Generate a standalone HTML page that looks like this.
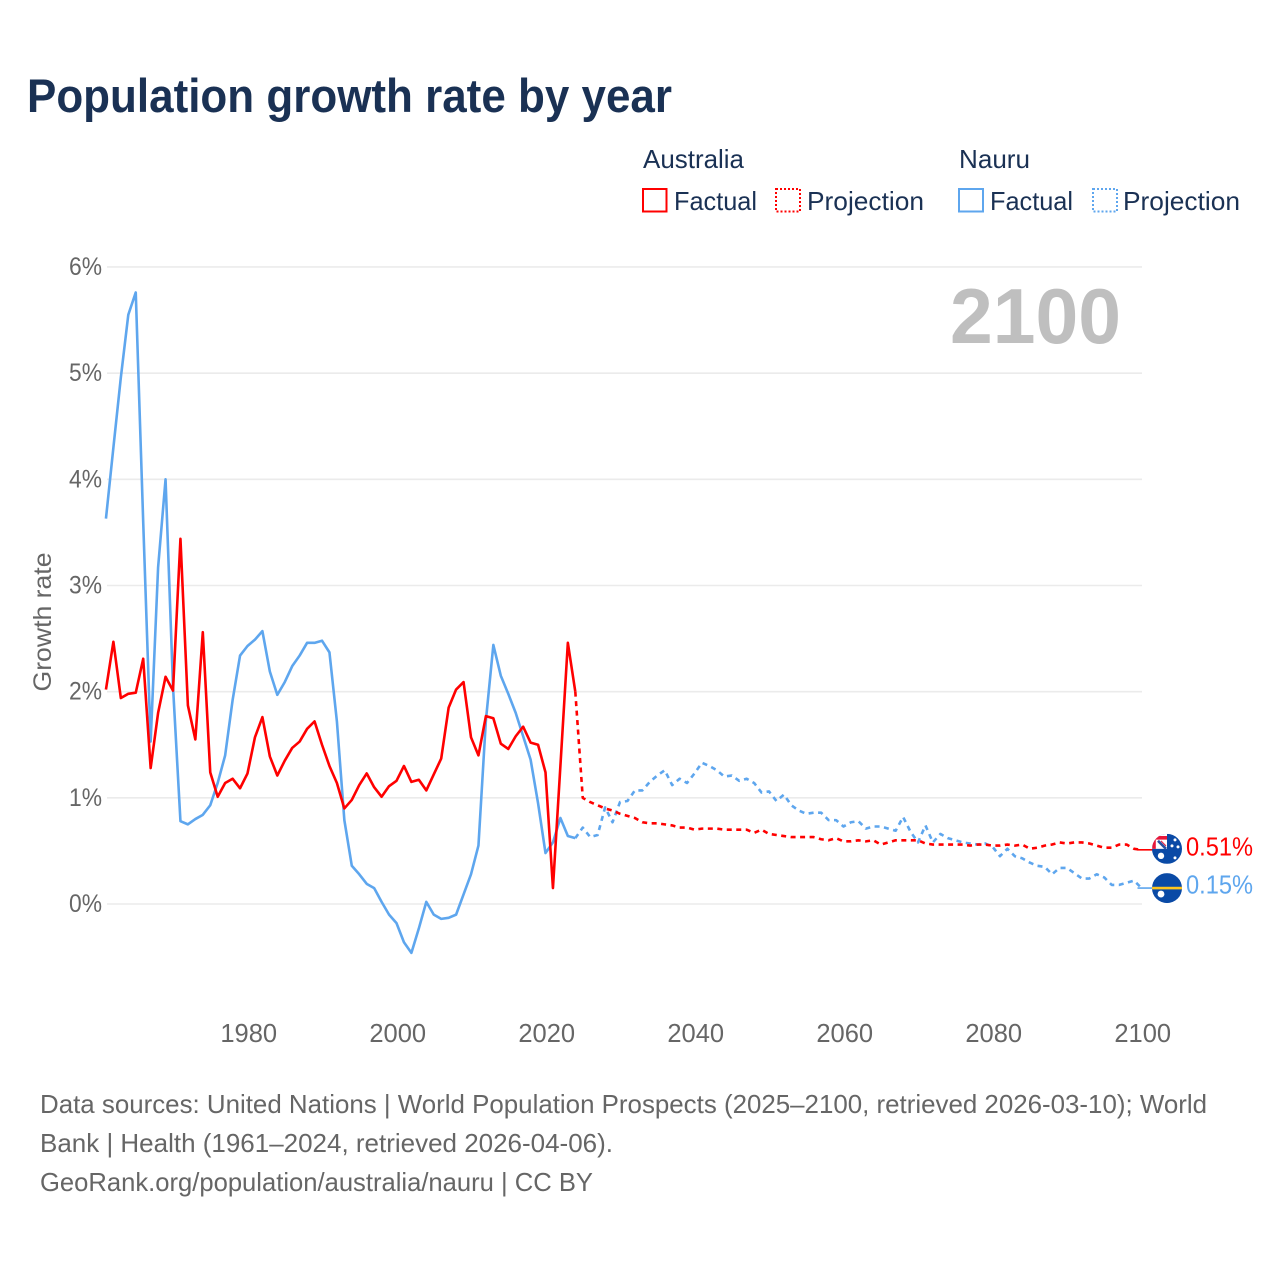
<!DOCTYPE html>
<html lang="en">
<head>
<meta charset="utf-8">
<title>Population growth rate by year</title>
<style>
html,body{margin:0;padding:0;background:#fff;}
svg{display:block;font-family:"Liberation Sans",sans-serif;}
</style>
</head>
<body>
<svg id="chart" xmlns="http://www.w3.org/2000/svg" width="1280" height="1280" viewBox="0 0 1280 1280">
  <rect width="1280" height="1280" fill="#ffffff"/>
  <text x="27" y="112" font-size="47" font-weight="700" fill="#1a3154" textLength="645" lengthAdjust="spacingAndGlyphs">Population growth rate by year</text>

  <g fill="#1a3154" font-size="26">
    <text x="643" y="168" textLength="101" lengthAdjust="spacingAndGlyphs">Australia</text>
    <rect x="643" y="189" width="23.500" height="22.500" fill="none" stroke="#ff0000" stroke-width="2"/>
    <text x="674" y="210" textLength="83" lengthAdjust="spacingAndGlyphs">Factual</text>
    <rect x="776" y="189" width="24" height="22.500" fill="none" stroke="#ff0000" stroke-width="2" stroke-dasharray="2 2"/>
    <text x="807" y="210" textLength="117" lengthAdjust="spacingAndGlyphs">Projection</text>
    <text x="959" y="168" textLength="71" lengthAdjust="spacingAndGlyphs">Nauru</text>
    <rect x="959" y="189" width="24" height="22.500" fill="none" stroke="#5ea6ee" stroke-width="2"/>
    <text x="990" y="210" textLength="83" lengthAdjust="spacingAndGlyphs">Factual</text>
    <rect x="1093" y="189" width="24" height="22.500" fill="none" stroke="#5ea6ee" stroke-width="2" stroke-dasharray="2 2"/>
    <text x="1123" y="210" textLength="117" lengthAdjust="spacingAndGlyphs">Projection</text>
  </g>

  <g id="grid"></g>
  <g id="yticks"></g>
  <g id="xticks"></g>
  <text transform="translate(51,622) rotate(-90)" text-anchor="middle" font-size="25" fill="#666666" textLength="139" lengthAdjust="spacingAndGlyphs">Growth rate</text>
  <text x="1121" y="343" text-anchor="end" font-size="78" font-weight="700" fill="#bfbfbf" textLength="171" lengthAdjust="spacingAndGlyphs">2100</text>

  <g id="series"></g>
  <defs>
    <clipPath id="flag-clip"><circle cx="0" cy="0" r="15"/></clipPath>
  </defs>
  <g id="ends"></g>

  <g fill="#666666" font-size="26">
    <text x="40" y="1113" textLength="1167" lengthAdjust="spacingAndGlyphs">Data sources: United Nations | World Population Prospects (2025–2100, retrieved 2026-03-10); World</text>
    <text x="40" y="1152" textLength="573" lengthAdjust="spacingAndGlyphs">Bank | Health (1961–2024, retrieved 2026-04-06).</text>
    <a><text x="40" y="1191" textLength="553" lengthAdjust="spacingAndGlyphs">GeoRank.org/population/australia/nauru | CC BY</text></a>
  </g>
</svg>
<script>
const factualStartYear = 1961;
const projectionStartYear = 2024;
const xTickYears = [1980, 2000, 2020, 2040, 2060, 2080, 2100];
const yTickValues = [0, 1, 2, 3, 4, 5, 6];
const yTickLabels = ['0%', '1%', '2%', '3%', '4%', '5%', '6%'];

const australiaFactual = [
  2.02, 2.47, 1.94, 1.98, 1.99, 2.31, 1.28, 1.80, 2.14, 2.01,
  3.44, 1.87, 1.55, 2.56, 1.24, 1.01, 1.14, 1.18, 1.09, 1.23,
  1.57, 1.76, 1.39, 1.21, 1.35, 1.47, 1.53, 1.65, 1.72, 1.50,
  1.30, 1.14, 0.90, 0.98, 1.12, 1.23, 1.10, 1.01, 1.11, 1.16,
  1.30, 1.15, 1.17, 1.07, 1.22, 1.37, 1.85, 2.02, 2.09, 1.57,
  1.40, 1.77, 1.75, 1.51, 1.46, 1.58, 1.67, 1.52, 1.50, 1.24,
  0.15, 1.30, 2.46, 2.00
];
const australiaProjection = [
  2.00, 1.00, 0.96, 0.93, 0.90, 0.88, 0.85, 0.83, 0.81, 0.77, 0.76,
  0.76, 0.75, 0.74, 0.72, 0.72, 0.70, 0.71, 0.71, 0.71, 0.70,
  0.70, 0.70, 0.70, 0.67, 0.70, 0.66, 0.65, 0.64, 0.63, 0.63,
  0.63, 0.63, 0.61, 0.60, 0.62, 0.59, 0.59, 0.60, 0.59, 0.60,
  0.56, 0.58, 0.60, 0.60, 0.60, 0.60, 0.57, 0.56, 0.56, 0.56,
  0.56, 0.56, 0.55, 0.56, 0.56, 0.55, 0.55, 0.56, 0.55, 0.56,
  0.52, 0.53, 0.55, 0.56, 0.58, 0.57, 0.58, 0.58, 0.57, 0.55,
  0.53, 0.53, 0.56, 0.56, 0.52, 0.51
];
const nauruFactual = [
  3.63, 4.30, 4.96, 5.55, 5.76, 3.60, 1.53, 3.17, 4.00, 2.05,
  0.78, 0.75, 0.80, 0.84, 0.93, 1.14, 1.40, 1.92, 2.34, 2.43,
  2.49, 2.57, 2.19, 1.97, 2.09, 2.24, 2.34, 2.46, 2.46, 2.48,
  2.37, 1.72, 0.79, 0.36, 0.28, 0.19, 0.15, 0.02, -0.10, -0.18,
  -0.36, -0.46, -0.23, 0.02, -0.10, -0.14, -0.13, -0.10, 0.09, 0.28,
  0.55, 1.73, 2.44, 2.15, 1.98, 1.80, 1.58, 1.36, 0.95, 0.48,
  0.58, 0.81, 0.64, 0.62
];
const nauruProjection = [
  0.62, 0.72, 0.63, 0.65, 0.91, 0.77, 0.96, 0.97, 1.07, 1.07, 1.15,
  1.21, 1.26, 1.12, 1.18, 1.14, 1.23, 1.33, 1.30, 1.26, 1.20,
  1.21, 1.16, 1.18, 1.14, 1.05, 1.06, 0.97, 1.03, 0.93, 0.88,
  0.85, 0.86, 0.86, 0.79, 0.79, 0.73, 0.77, 0.78, 0.71, 0.73,
  0.73, 0.71, 0.69, 0.82, 0.68, 0.58, 0.74, 0.58, 0.66, 0.62,
  0.60, 0.58, 0.57, 0.56, 0.57, 0.54, 0.45, 0.52, 0.45, 0.43,
  0.39, 0.36, 0.35, 0.28, 0.34, 0.34, 0.29, 0.24, 0.24, 0.28,
  0.25, 0.18, 0.18, 0.20, 0.22, 0.15
];

const SVG_NS = 'http://www.w3.org/2000/svg';
function xScale(year) { return 1141.5 - (2100 - year) * 7.45; }
function yScale(value) { return 904 - value * 106.17; }
function make(tag, attrs, parent) {
  const el = document.createElementNS(SVG_NS, tag);
  for (const k in attrs) el.setAttribute(k, attrs[k]);
  parent.appendChild(el);
  return el;
}
function linePath(values, startYear) {
  return values.map(function (v, i) {
    return (i ? 'L' : 'M') + xScale(startYear + i).toFixed(2) + ' ' + yScale(v).toFixed(2);
  }).join(' ');
}

const gridGroup = document.getElementById('grid');
const yTickGroup = document.getElementById('yticks');
yTickValues.forEach(function (v, i) {
  const line = make('line', { x1: 107, x2: 1142, y1: yScale(v), y2: yScale(v), stroke: '#ebebeb', 'stroke-width': 1.6 }, gridGroup);
  
  
  const label = make('text', { x: 102, y: yScale(v) + 8, 'text-anchor': 'end', 'font-size': 25, fill: '#666666', textLength: 33, lengthAdjust: 'spacingAndGlyphs' }, yTickGroup);
  label.textContent = yTickLabels[i];
  
  
});

const xTickGroup = document.getElementById('xticks');
xTickYears.forEach(function (year) {
  const label = make('text', { x: xScale(year) + 1.2, y: 1042, 'text-anchor': 'middle', 'font-size': 25.5, fill: '#666666' }, xTickGroup);
  label.textContent = String(year);
  
  
});

const seriesGroup = document.getElementById('series');
const RED = '#ff0000';
const BLUE = '#5ea6ee';

const nauruProjectionLine = make('path', { d: linePath(nauruProjection, projectionStartYear), fill: 'none', stroke: BLUE, 'stroke-width': 2.6, 'stroke-dasharray': '5 4.5', 'stroke-linejoin': 'round' }, seriesGroup);



const nauruFactualLine = make('path', { d: linePath(nauruFactual, factualStartYear), fill: 'none', stroke: BLUE, 'stroke-width': 2.6, 'stroke-linejoin': 'round' }, seriesGroup);



const australiaProjectionLine = make('path', { d: linePath(australiaProjection, projectionStartYear), fill: 'none', stroke: RED, 'stroke-width': 2.6, 'stroke-dasharray': '5 4.5', 'stroke-linejoin': 'round' }, seriesGroup);



const australiaFactualLine = make('path', { d: linePath(australiaFactual, factualStartYear), fill: 'none', stroke: RED, 'stroke-width': 2.6, 'stroke-linejoin': 'round' }, seriesGroup);



const endsGroup = document.getElementById('ends');
function endStub(value, color) {
  const y = yScale(value);
  const stub = make('line', { x1: xScale(2100) - 4, x2: 1155, y1: y, y2: y, stroke: color, 'stroke-width': 1.6 }, endsGroup);
  
  
}
function endLabel(value, color) {
  const text = make('text', { x: 1186, y: yScale(value) + 5.5, 'font-size': 26, fill: color, textLength: 67, lengthAdjust: 'spacingAndGlyphs' }, endsGroup);
  text.textContent = value.toFixed(2) + '%';
  
  
}

const australiaEnd = australiaProjection[australiaProjection.length - 1];
const nauruEnd = nauruProjection[nauruProjection.length - 1];
endStub(australiaEnd, RED);
endStub(nauruEnd, BLUE);

const auFlag = make('g', { transform: 'translate(1167,' + (yScale(australiaEnd) - 1) + ')', 'clip-path': 'url(#flag-clip)' }, endsGroup);


make('rect', { x: -15, y: -15, width: 30, height: 30, fill: '#0a4aa6' }, auFlag);
make('rect', { x: -15, y: -15, width: 15, height: 15, fill: '#ffffff' }, auFlag);
make('path', { d: 'M-13 0 V-11 H0', fill: 'none', stroke: '#e8173a', 'stroke-width': 3.6 }, auFlag);
make('path', { d: 'M-9 -8 L-1 0', fill: 'none', stroke: '#2a4fa0', 'stroke-width': 2.6 }, auFlag);
make('path', { d: 'M-6 -8 L-1 -3', fill: 'none', stroke: '#e8173a', 'stroke-width': 1 }, auFlag);
make('circle', { cx: -6, cy: 7, r: 3.2, fill: '#ffffff' }, auFlag);
make('circle', { cx: 8, cy: -9, r: 1.5, fill: '#ffffff' }, auFlag);
make('circle', { cx: 11, cy: -2, r: 1.5, fill: '#ffffff' }, auFlag);
make('circle', { cx: 5, cy: -3, r: 1.5, fill: '#ffffff' }, auFlag);
make('circle', { cx: 8, cy: 9, r: 1.5, fill: '#ffffff' }, auFlag);

const nrFlag = make('g', { transform: 'translate(1167,' + yScale(nauruEnd) + ')', 'clip-path': 'url(#flag-clip)' }, endsGroup);


make('rect', { x: -15, y: -15, width: 30, height: 30, fill: '#0a4aa6' }, nrFlag);
make('rect', { x: -15, y: -1.3, width: 30, height: 2.6, fill: '#ffc61e' }, nrFlag);
make('circle', { cx: -6, cy: 6, r: 3.4, fill: '#ffffff' }, nrFlag);

endLabel(australiaEnd, RED);
endLabel(nauruEnd, BLUE);
</script>
</body>
</html>
